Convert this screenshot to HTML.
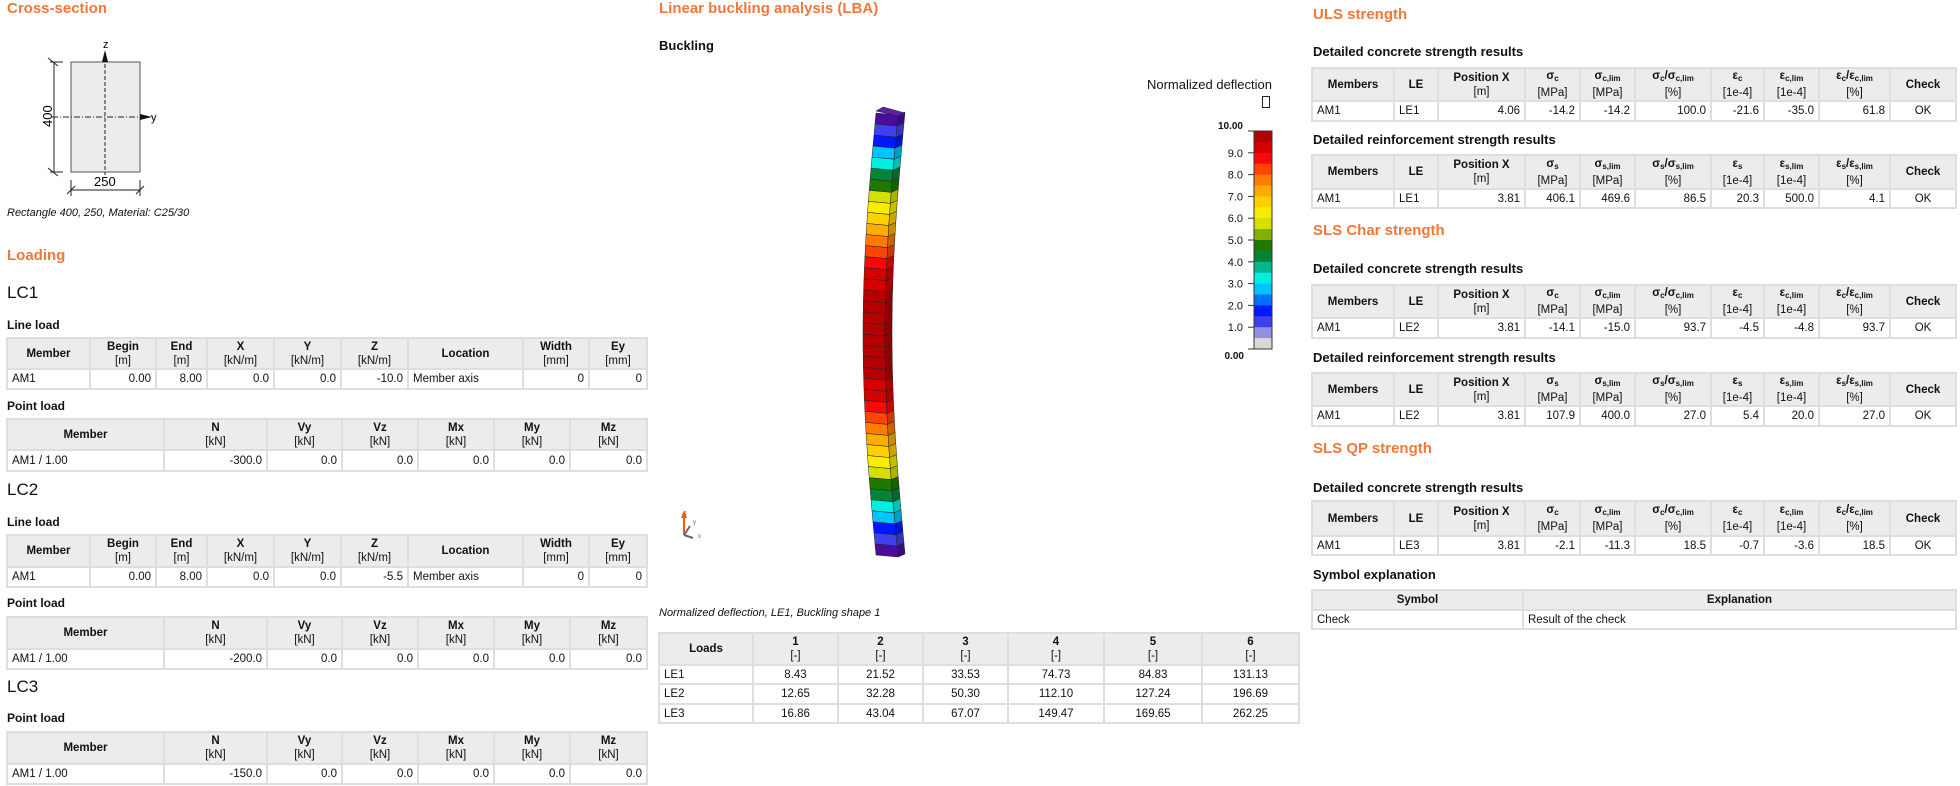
<!DOCTYPE html>
<html><head><meta charset="utf-8">
<style>
*{margin:0;padding:0;box-sizing:border-box}
body{width:1960px;height:786px;background:#fff;position:relative;overflow:hidden;font-family:"Liberation Sans",Arial,sans-serif;color:#111}
.a{position:absolute;white-space:nowrap}
.h1{font-size:15px;font-weight:bold;color:#f07838}
.h2{font-size:17px}
.h3{font-size:12px;font-weight:bold}
.h4{font-size:13px;font-weight:bold}
.cap{font-size:11px;font-style:italic}
table{position:absolute;border-collapse:collapse;table-layout:fixed;font-size:11.5px}
td,th{border:2px solid #dedede;padding:0 4px;overflow:hidden;white-space:nowrap;line-height:14px}
th{background:#ececec;font-weight:bold;text-align:center}
th span{font-weight:normal}
td{text-align:right}
td.l{text-align:left}
td.c{text-align:center}
sub{font-size:8px;vertical-align:-2px}
sup{font-size:8px}
</style></head><body>

<div class="a h1" style="left:7px;top:0px">Cross-section</div>
<svg class="a" style="left:0;top:0" width="200" height="210">
<rect x="71" y="62" width="69" height="110" fill="#ececec" stroke="#555" stroke-width="1"/>
<line x1="105" y1="52" x2="105" y2="175" stroke="#222" stroke-dasharray="4,2"/>
<polygon points="105,50 102,62 108,62" fill="#111"/>
<line x1="52" y1="117" x2="142" y2="117" stroke="#222" stroke-dasharray="6,2,1,2"/>
<polygon points="152,117 140,114 140,120" fill="#111"/>
<text x="103" y="48" font-size="11" font-family="Liberation Sans">z</text>
<text x="151" y="121" font-size="11" font-family="Liberation Sans">y</text>
<line x1="54" y1="62" x2="54" y2="172" stroke="#222"/>
<line x1="48" y1="58" x2="58" y2="66" stroke="#222"/><line x1="48" y1="168" x2="58" y2="176" stroke="#222"/>
<line x1="50" y1="62" x2="63" y2="62" stroke="#222"/><line x1="50" y1="172" x2="63" y2="172" stroke="#222"/>
<text x="0" y="0" font-size="13" font-family="Liberation Sans" transform="translate(52,127) rotate(-90)">400</text>
<line x1="71" y1="190" x2="140" y2="190" stroke="#222"/>
<line x1="71" y1="180" x2="71" y2="196" stroke="#222"/><line x1="140" y1="180" x2="140" y2="196" stroke="#222"/>
<line x1="67" y1="194" x2="75" y2="186" stroke="#222"/><line x1="136" y1="194" x2="144" y2="186" stroke="#222"/>
<text x="94" y="186" font-size="13" font-family="Liberation Sans">250</text>
</svg>
<div class="a cap" style="left:7px;top:207px">Rectangle 400, 250, Material: C25/30</div>

<div class="a h1" style="left:7px;top:247px">Loading</div>
<div class="a h2" style="left:7px;top:283px">LC1</div>
<div class="a h3" style="left:7px;top:318px">Line load</div>
<table style="left:6px;top:337px;width:640px">
<colgroup><col style="width:83px"><col style="width:66px"><col style="width:51px"><col style="width:67px"><col style="width:67px"><col style="width:67px"><col style="width:115px"><col style="width:66px"><col style="width:58px"></colgroup>
<tr style="height:31px"><th>Member</th><th>Begin<br><span>[m]</span></th><th>End<br><span>[m]</span></th><th>X<br><span>[kN/m]</span></th><th>Y<br><span>[kN/m]</span></th><th>Z<br><span>[kN/m]</span></th><th>Location</th><th>Width<br><span>[mm]</span></th><th>Ey<br><span>[mm]</span></th></tr>
<tr style="height:20px"><td class="l">AM1</td><td>0.00</td><td>8.00</td><td>0.0</td><td>0.0</td><td>-10.0</td><td class="l">Member axis</td><td>0</td><td>0</td></tr>
</table>
<div class="a h3" style="left:7px;top:399px">Point load</div>
<table style="left:6px;top:418px;width:640px">
<colgroup><col style="width:157px"><col style="width:103px"><col style="width:75px"><col style="width:76px"><col style="width:76px"><col style="width:76px"><col style="width:77px"></colgroup>
<tr style="height:31px"><th>Member</th><th>N<br><span>[kN]</span></th><th>Vy<br><span>[kN]</span></th><th>Vz<br><span>[kN]</span></th><th>Mx<br><span>[kN]</span></th><th>My<br><span>[kN]</span></th><th>Mz<br><span>[kN]</span></th></tr>
<tr style="height:21px"><td class="l">AM1 / 1.00</td><td>-300.0</td><td>0.0</td><td>0.0</td><td>0.0</td><td>0.0</td><td>0.0</td></tr>
</table>

<div class="a h2" style="left:7px;top:480px">LC2</div>
<div class="a h3" style="left:7px;top:515px">Line load</div>
<table style="left:6px;top:534px;width:640px">
<colgroup><col style="width:83px"><col style="width:66px"><col style="width:51px"><col style="width:67px"><col style="width:67px"><col style="width:67px"><col style="width:115px"><col style="width:66px"><col style="width:58px"></colgroup>
<tr style="height:32px"><th>Member</th><th>Begin<br><span>[m]</span></th><th>End<br><span>[m]</span></th><th>X<br><span>[kN/m]</span></th><th>Y<br><span>[kN/m]</span></th><th>Z<br><span>[kN/m]</span></th><th>Location</th><th>Width<br><span>[mm]</span></th><th>Ey<br><span>[mm]</span></th></tr>
<tr style="height:20px"><td class="l">AM1</td><td>0.00</td><td>8.00</td><td>0.0</td><td>0.0</td><td>-5.5</td><td class="l">Member axis</td><td>0</td><td>0</td></tr>
</table>
<div class="a h3" style="left:7px;top:596px">Point load</div>
<table style="left:6px;top:616px;width:640px">
<colgroup><col style="width:157px"><col style="width:103px"><col style="width:75px"><col style="width:76px"><col style="width:76px"><col style="width:76px"><col style="width:77px"></colgroup>
<tr style="height:32px"><th>Member</th><th>N<br><span>[kN]</span></th><th>Vy<br><span>[kN]</span></th><th>Vz<br><span>[kN]</span></th><th>Mx<br><span>[kN]</span></th><th>My<br><span>[kN]</span></th><th>Mz<br><span>[kN]</span></th></tr>
<tr style="height:20px"><td class="l">AM1 / 1.00</td><td>-200.0</td><td>0.0</td><td>0.0</td><td>0.0</td><td>0.0</td><td>0.0</td></tr>
</table>
<div class="a h2" style="left:7px;top:677px">LC3</div>
<div class="a h3" style="left:7px;top:711px">Point load</div>
<table style="left:6px;top:731px;width:640px">
<colgroup><col style="width:157px"><col style="width:103px"><col style="width:75px"><col style="width:76px"><col style="width:76px"><col style="width:76px"><col style="width:77px"></colgroup>
<tr style="height:32px"><th>Member</th><th>N<br><span>[kN]</span></th><th>Vy<br><span>[kN]</span></th><th>Vz<br><span>[kN]</span></th><th>Mx<br><span>[kN]</span></th><th>My<br><span>[kN]</span></th><th>Mz<br><span>[kN]</span></th></tr>
<tr style="height:20px"><td class="l">AM1 / 1.00</td><td>-150.0</td><td>0.0</td><td>0.0</td><td>0.0</td><td>0.0</td><td>0.0</td></tr>
</table>

<!-- Middle -->
<div class="a h1" style="left:659px;top:0px">Linear buckling analysis (LBA)</div>
<div class="a h4" style="left:659px;top:38px">Buckling</div>
<div class="a" style="left:1100px;top:77px;width:172px;text-align:right;font-size:13px">Normalized deflection</div>
<div class="a" style="left:1262px;top:96px;width:8px;height:12px;border:1px solid #222"></div>
<svg id="col" class="a" style="left:0;top:0" width="1320" height="600"></svg>
<div class="a cap" style="left:659px;top:607px">Normalized deflection, LE1, Buckling shape 1</div>
<table style="left:658px;top:632px;width:640px">
<colgroup><col style="width:94px"><col style="width:85px"><col style="width:85px"><col style="width:85px"><col style="width:96px"><col style="width:98px"><col style="width:97px"></colgroup>
<tr style="height:32px"><th>Loads</th><th>1<br><span>[-]</span></th><th>2<br><span>[-]</span></th><th>3<br><span>[-]</span></th><th>4<br><span>[-]</span></th><th>5<br><span>[-]</span></th><th>6<br><span>[-]</span></th></tr>
<tr style="height:19px"><td class="l">LE1</td><td class="c">8.43</td><td class="c">21.52</td><td class="c">33.53</td><td class="c">74.73</td><td class="c">84.83</td><td class="c">131.13</td></tr>
<tr style="height:20px"><td class="l">LE2</td><td class="c">12.65</td><td class="c">32.28</td><td class="c">50.30</td><td class="c">112.10</td><td class="c">127.24</td><td class="c">196.69</td></tr>
<tr style="height:19px"><td class="l">LE3</td><td class="c">16.86</td><td class="c">43.04</td><td class="c">67.07</td><td class="c">149.47</td><td class="c">169.65</td><td class="c">262.25</td></tr>
</table>

<!-- Right -->
<div class="a h1" style="left:1313px;top:6px">ULS strength</div>
<div class="a h4" style="left:1313px;top:44px">Detailed concrete strength results</div>
<table style="left:1311px;top:67px;width:644px">
<colgroup><col style="width:82px"><col style="width:44px"><col style="width:87px"><col style="width:55px"><col style="width:55px"><col style="width:76px"><col style="width:53px"><col style="width:55px"><col style="width:71px"><col style="width:66px"></colgroup>
<tr style="height:33px"><th>Members</th><th>LE</th><th>Position X<br><span>[m]</span></th><th>σ<sub>c</sub><br><span>[MPa]</span></th><th>σ<sub>c,lim</sub><br><span>[MPa]</span></th><th>σ<sub>c</sub>/σ<sub>c,lim</sub><br><span>[%]</span></th><th>ε<sub>c</sub><br><span>[1e-4]</span></th><th>ε<sub>c,lim</sub><br><span>[1e-4]</span></th><th>ε<sub>c</sub>/ε<sub>c,lim</sub><br><span>[%]</span></th><th>Check</th></tr>
<tr style="height:20px"><td class="l">AM1</td><td class="l">LE1</td><td>4.06</td><td>-14.2</td><td>-14.2</td><td>100.0</td><td>-21.6</td><td>-35.0</td><td>61.8</td><td class="c">OK</td></tr>
</table>
<div class="a h4" style="left:1313px;top:132px">Detailed reinforcement strength results</div>
<table style="left:1311px;top:154px;width:644px">
<colgroup><col style="width:82px"><col style="width:44px"><col style="width:87px"><col style="width:55px"><col style="width:55px"><col style="width:76px"><col style="width:53px"><col style="width:55px"><col style="width:71px"><col style="width:66px"></colgroup>
<tr style="height:34px"><th>Members</th><th>LE</th><th>Position X<br><span>[m]</span></th><th>σ<sub>s</sub><br><span>[MPa]</span></th><th>σ<sub>s,lim</sub><br><span>[MPa]</span></th><th>σ<sub>s</sub>/σ<sub>s,lim</sub><br><span>[%]</span></th><th>ε<sub>s</sub><br><span>[1e-4]</span></th><th>ε<sub>s,lim</sub><br><span>[1e-4]</span></th><th>ε<sub>s</sub>/ε<sub>s,lim</sub><br><span>[%]</span></th><th>Check</th></tr>
<tr style="height:19px"><td class="l">AM1</td><td class="l">LE1</td><td>3.81</td><td>406.1</td><td>469.6</td><td>86.5</td><td>20.3</td><td>500.0</td><td>4.1</td><td class="c">OK</td></tr>
</table>
<div class="a h1" style="left:1313px;top:222px">SLS Char strength</div>
<div class="a h4" style="left:1313px;top:261px">Detailed concrete strength results</div>
<table style="left:1311px;top:284px;width:644px">
<colgroup><col style="width:82px"><col style="width:44px"><col style="width:87px"><col style="width:55px"><col style="width:55px"><col style="width:76px"><col style="width:53px"><col style="width:55px"><col style="width:71px"><col style="width:66px"></colgroup>
<tr style="height:33px"><th>Members</th><th>LE</th><th>Position X<br><span>[m]</span></th><th>σ<sub>c</sub><br><span>[MPa]</span></th><th>σ<sub>c,lim</sub><br><span>[MPa]</span></th><th>σ<sub>c</sub>/σ<sub>c,lim</sub><br><span>[%]</span></th><th>ε<sub>c</sub><br><span>[1e-4]</span></th><th>ε<sub>c,lim</sub><br><span>[1e-4]</span></th><th>ε<sub>c</sub>/ε<sub>c,lim</sub><br><span>[%]</span></th><th>Check</th></tr>
<tr style="height:20px"><td class="l">AM1</td><td class="l">LE2</td><td>3.81</td><td>-14.1</td><td>-15.0</td><td>93.7</td><td>-4.5</td><td>-4.8</td><td>93.7</td><td class="c">OK</td></tr>
</table>
<div class="a h4" style="left:1313px;top:350px">Detailed reinforcement strength results</div>
<table style="left:1311px;top:372px;width:644px">
<colgroup><col style="width:82px"><col style="width:44px"><col style="width:87px"><col style="width:55px"><col style="width:55px"><col style="width:76px"><col style="width:53px"><col style="width:55px"><col style="width:71px"><col style="width:66px"></colgroup>
<tr style="height:33px"><th>Members</th><th>LE</th><th>Position X<br><span>[m]</span></th><th>σ<sub>s</sub><br><span>[MPa]</span></th><th>σ<sub>s,lim</sub><br><span>[MPa]</span></th><th>σ<sub>s</sub>/σ<sub>s,lim</sub><br><span>[%]</span></th><th>ε<sub>s</sub><br><span>[1e-4]</span></th><th>ε<sub>s,lim</sub><br><span>[1e-4]</span></th><th>ε<sub>s</sub>/ε<sub>s,lim</sub><br><span>[%]</span></th><th>Check</th></tr>
<tr style="height:20px"><td class="l">AM1</td><td class="l">LE2</td><td>3.81</td><td>107.9</td><td>400.0</td><td>27.0</td><td>5.4</td><td>20.0</td><td>27.0</td><td class="c">OK</td></tr>
</table>
<div class="a h1" style="left:1313px;top:440px">SLS QP strength</div>
<div class="a h4" style="left:1313px;top:480px">Detailed concrete strength results</div>
<table style="left:1311px;top:500px;width:644px">
<colgroup><col style="width:82px"><col style="width:44px"><col style="width:87px"><col style="width:55px"><col style="width:55px"><col style="width:76px"><col style="width:53px"><col style="width:55px"><col style="width:71px"><col style="width:66px"></colgroup>
<tr style="height:35px"><th>Members</th><th>LE</th><th>Position X<br><span>[m]</span></th><th>σ<sub>c</sub><br><span>[MPa]</span></th><th>σ<sub>c,lim</sub><br><span>[MPa]</span></th><th>σ<sub>c</sub>/σ<sub>c,lim</sub><br><span>[%]</span></th><th>ε<sub>c</sub><br><span>[1e-4]</span></th><th>ε<sub>c,lim</sub><br><span>[1e-4]</span></th><th>ε<sub>c</sub>/ε<sub>c,lim</sub><br><span>[%]</span></th><th>Check</th></tr>
<tr style="height:19px"><td class="l">AM1</td><td class="l">LE3</td><td>3.81</td><td>-2.1</td><td>-11.3</td><td>18.5</td><td>-0.7</td><td>-3.6</td><td>18.5</td><td class="c">OK</td></tr>
</table>
<div class="a h4" style="left:1313px;top:567px">Symbol explanation</div>
<table style="left:1311px;top:589px;width:644px">
<colgroup><col style="width:211px"><col style="width:433px"></colgroup>
<tr style="height:20px"><th>Symbol</th><th>Explanation</th></tr>
<tr style="height:19px"><td class="l">Check</td><td class="l">Result of the check</td></tr>
</table>

<script>
(function(){
var svg=document.getElementById('col');var ns='http://www.w3.org/2000/svg';
function el(t,a){var e=document.createElementNS(ns,t);for(var k in a)e.setAttribute(k,a[k]);svg.appendChild(e);return e;}
var cols=['#b40000','#d50000','#f80808','#ff4400','#ff7c00','#ffac00','#ffd000','#f8ec00','#d4e000','#80b000','#217800','#00843a','#00b890','#00efe0','#00c4ff','#0070ff','#0018ff','#4040ee','#9090e0','#d8d8d8'];
// legend
var y0=131,bh=10.9;
for(var i=0;i<20;i++){el('rect',{x:1254,y:y0+i*bh,width:18,height:bh+0.5,fill:cols[i]});}
el('rect',{x:1254,y:y0,width:18,height:218,fill:'none',stroke:'#333','stroke-width':1});
var labs=['10.00','9.0','8.0','7.0','6.0','5.0','4.0','3.0','2.0','1.0','0.00'];
for(var j=0;j<=10;j++){var yy=y0+j*21.8;el('line',{x1:1248,y1:yy,x2:1254,y2:yy,stroke:'#333'});
var t=el('text',{x:j==10?1244:1243,y:(j==10?yy+10:yy+4-(j==0?6:0)),'font-size':(j==0||j==10)?10:11,'text-anchor':'end','font-family':'Liberation Sans',fill:'#111','font-weight':(j==0||j==10)?'bold':'normal'});t.textContent=labs[j];}
// column
var N=40,top=113,bot=555,H=bot-top;
function cx(t){return 891-13*Math.sin(Math.PI*t);}
function colr(v){var k=Math.floor(v/0.5);if(k<=0)return '#4a0c9c';if(k==1)return '#3018c8';if(k>19)k=19;return cols[19-k];}
function shade(c){var r=parseInt(c.substr(1,2),16),g=parseInt(c.substr(3,2),16),b=parseInt(c.substr(5,2),16);return 'rgb('+Math.round(r*.8)+','+Math.round(g*.8)+','+Math.round(b*.8)+')';}
for(var s=0;s<N;s++){var t1=s/N,t2=(s+1)/N;var ya=top+t1*H,yb=top+t2*H;var xa=cx(t1),xb=cx(t2);
var v=10*Math.sin(Math.PI*(t1+t2)/2);var c=colr(v);
el('polygon',{points:(xa-15)+','+ya+' '+(xa+7)+','+(ya+2)+' '+(xb+7)+','+(yb+2)+' '+(xb-15)+','+yb,fill:c,stroke:'#222','stroke-width':0.5});
el('polygon',{points:(xa+7)+','+(ya+2)+' '+(xa+14)+','+(ya-1)+' '+(xb+14)+','+(yb-1)+' '+(xb+7)+','+(yb+2),fill:shade(c),stroke:'#222','stroke-width':0.5});}
el('polygon',{points:'876,111 883,107 905,113 898,116',fill:'#5a20a8',stroke:'#222','stroke-width':0.5});
// axis icon
el('line',{x1:684,y1:535,x2:684,y2:514,stroke:'#ff5a00','stroke-width':2});
el('polygon',{points:'684,510 681,518 687,518',fill:'#ff5a00'});
el('line',{x1:684,y1:535,x2:693,y2:538,stroke:'#666','stroke-width':2});
el('line',{x1:684,y1:535,x2:690,y2:526,stroke:'#666','stroke-width':2});
var l=[['z',679,515],['y',688,524],['x',693,538]];l.forEach(function(a){var t=el('text',{x:a[1]+5,y:a[2],'font-size':6,fill:'#666','font-family':'Liberation Sans'});t.textContent=a[0];});
})();
</script>
</body></html>
